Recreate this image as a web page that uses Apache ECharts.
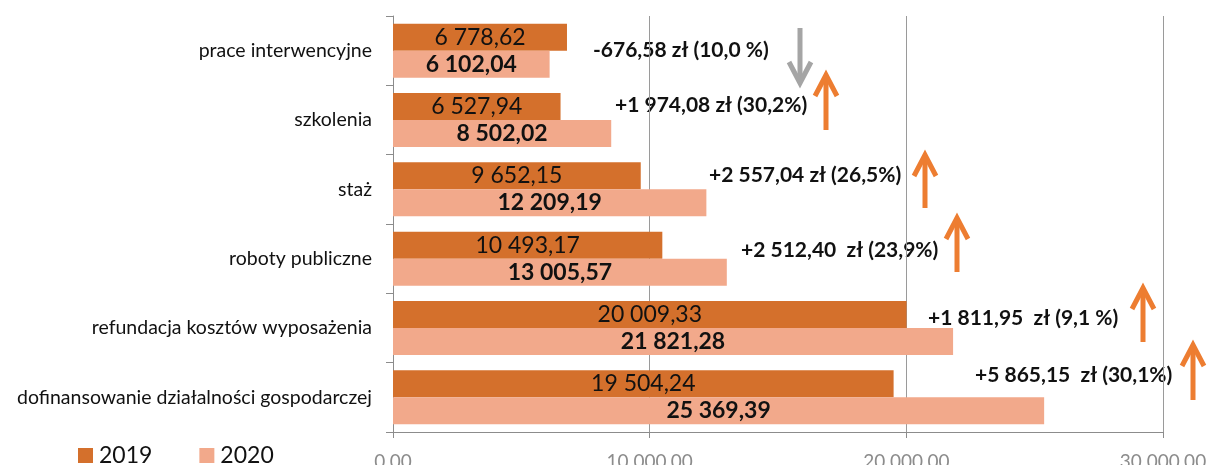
<!DOCTYPE html>
<html>
<head>
<meta charset="utf-8">
<script src="https://cdn.jsdelivr.net/npm/echarts@6/dist/echarts.min.js"></script>
<style>
  html, body { margin: 0; padding: 0; background: #fff; }
  #chart { width: 1210px; height: 465px; }
</style>
</head>
<body>
<div id="chart"></div>
<script>
const categories = [
  'prace interwencyjne',
  'szkolenia',
  'staż',
  'roboty publiczne',
  'refundacja kosztów wyposażenia',
  'dofinansowanie działalności gospodarczej'
]
const values2019 = [6778.62, 6527.94, 9652.15, 10493.17, 20009.33, 19504.24]
const values2020 = [6102.04, 8502.02, 12209.19, 13005.57, 21821.28, 25369.39]
const changeLabels = [
  '-676,58 zł (10,0 %)',
  '+1 974,08 zł (30,2%)',
  '+2 557,04 zł (26,5%)',
  '+2 512,40  zł (23,9%)',
  '+1 811,95  zł (9,1 %)',
  '+5 865,15  zł (30,1%)'
]
const changeUp = [false, true, true, true, true, true]

const FONT = 'Lato, "Open Sans", sans-serif'

const fmt = (v, dec) => {
  const parts = v.toFixed(dec).split('.')
  const int = parts[0].replace(/\B(?=(\d{3})+(?!\d))/g, ' ')
  return dec ? int + ',' + parts[1] : int
}

const chart = echarts.init(document.getElementById('chart'))

// annotation placement (pixels), drawn as graphics
const notePos = [
  { x: 593, y: 53 }, { x: 615, y: 108 }, { x: 709, y: 178 },
  { x: 741, y: 253 }, { x: 928, y: 321 }, { x: 975, y: 378 }
]
const arrowPos = [
  { x: 800, top: 28, bottom: 85 }, { x: 826, top: 73, bottom: 130 },
  { x: 925, top: 153, bottom: 208 }, { x: 957, top: 216, bottom: 272 },
  { x: 1143, top: 286, bottom: 342 }, { x: 1193, top: 343, bottom: 400 }
]

const graphics = []
changeLabels.forEach((t, i) => {
  graphics.push({
    type: 'text',
    left: notePos[i].x,
    top: notePos[i].y - 13,
    style: { text: t, font: 'bold 21px ' + FONT, fill: '#111' }
  })
  const a = arrowPos[i]
  const color = changeUp[i] ? '#ED7D31' : '#A5A5A5'
  const tipY = changeUp[i] ? a.top : a.bottom
  const tailY = changeUp[i] ? a.bottom : a.top
  const dir = changeUp[i] ? 1 : -1
  graphics.push({
    type: 'line',
    shape: { x1: a.x, y1: tailY, x2: a.x, y2: tipY + dir * 2 },
    style: { stroke: color, lineWidth: 5 }
  })
  graphics.push({
    type: 'polyline',
    shape: { points: [[a.x - 11, tipY + dir * 23], [a.x, tipY + dir * 2], [a.x + 11, tipY + dir * 23]] },
    style: { stroke: color, lineWidth: 5, fill: null, lineCap: 'butt', lineJoin: 'miter' }
  })
})

chart.setOption({
  animation: false,
  textStyle: { fontFamily: FONT },
  grid: { left: 393, right: 47, top: 16, bottom: 33, containLabel: false, outerBoundsMode: 'none' },
  legend: {
    left: 73,
    top: 439,
    itemWidth: 15,
    itemHeight: 15,
    itemGap: 47,
    icon: 'rect',
    textStyle: { fontSize: 23, color: '#111', fontFamily: FONT, padding: [0, 0, 0, 1] },
    data: ['2019', '2020']
  },
  xAxis: {
    type: 'value',
    min: 0,
    max: 30000,
    interval: 10000,
    axisLine: { show: true, lineStyle: { color: '#8C8C8C', width: 1 } },
    axisTick: { show: true, length: 6, lineStyle: { color: '#8C8C8C' } },
    splitLine: { show: true, lineStyle: { color: '#9A9A9A', width: 1 } },
    axisLabel: {
      margin: 20,
      fontSize: 19,
      color: '#8C8C8C',
      formatter: v => fmt(v, 2)
    }
  },
  yAxis: {
    type: 'category',
    inverse: true,
    data: categories,
    axisLine: { show: true, lineStyle: { color: '#8C8C8C', width: 1 } },
    axisTick: { show: true, length: 7, lineStyle: { color: '#8C8C8C' } },
    axisLabel: { margin: 21, fontSize: 19.5, color: '#111' }
  },
  series: [
    {
      name: '2019',
      type: 'bar',
      data: values2019,
      barWidth: 27,
      barGap: '0%',
      itemStyle: { color: '#D4702C' },
      label: {
        show: true,
        position: 'inside',
        fontSize: 23,
        color: '#111',
        formatter: p => fmt(p.value, 2)
      }
    },
    {
      name: '2020',
      type: 'bar',
      data: values2020,
      barWidth: 27,
      barGap: '0%',
      itemStyle: { color: '#F2A98B' },
      label: {
        show: true,
        position: 'inside',
        fontSize: 23,
        fontWeight: 'bold',
        color: '#111',
        formatter: p => fmt(p.value, 2)
      }
    }
  ],
  graphic: graphics
})

window.addEventListener('resize', () => chart.resize())
</script>
</body>
</html>
